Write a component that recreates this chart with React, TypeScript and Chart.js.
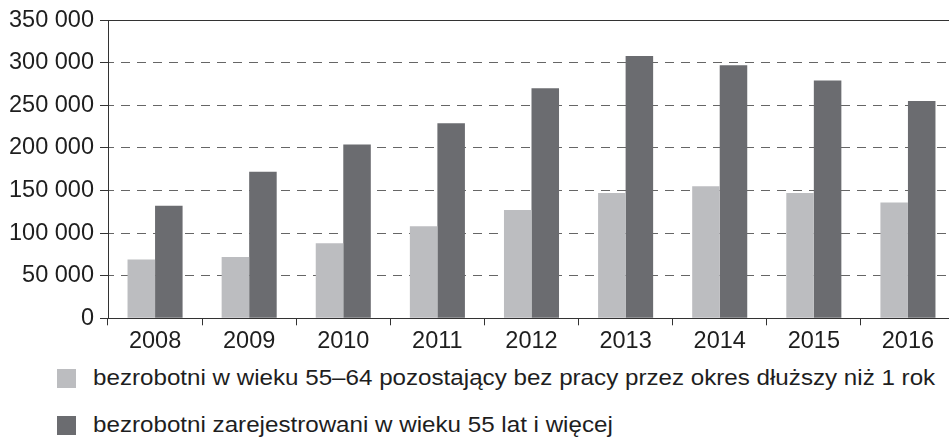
import React, { useEffect, useRef } from "react";
import { Chart, registerables } from "chart.js";

Chart.register(...registerables);

const years = ["2008", "2009", "2010", "2011", "2012", "2013", "2014", "2015", "2016"];
const longTermUnemployed = [69000, 72000, 88000, 108000, 127000, 147000, 155000, 147000, 136000];
const registeredUnemployed = [132000, 172000, 204000, 229000, 270000, 308000, 297000, 279000, 255000];
const seriesLabels = [
  "bezrobotni w wieku 55–64 pozostający bez pracy przez okres dłuższy niż 1 rok",
  "bezrobotni zarejestrowani w wieku 55 lat i więcej",
];
const seriesColors = ["#bcbdc0", "#6b6c70"];
const yMax = 350000;
const yStep = 50000;

const FONT = "'Liberation Sans', Arial, sans-serif";

function formatTick(v: number): string {
  if (v === 0) return "0";
  return String(v).replace(/\B(?=(\d{3})+(?!\d))/g, " ");
}

export default function App() {
  const canvasRef = useRef<HTMLCanvasElement | null>(null);

  useEffect(() => {
    if (!canvasRef.current) return;
    const chart = new Chart(canvasRef.current, {
      type: "bar",
      data: {
        labels: years,
        datasets: [
          {
            label: seriesLabels[0],
            data: longTermUnemployed,
            backgroundColor: seriesColors[0],
            borderWidth: 0,
            barPercentage: 1,
            categoryPercentage: 0.585,
          },
          {
            label: seriesLabels[1],
            data: registeredUnemployed,
            backgroundColor: seriesColors[1],
            borderWidth: 0,
            barPercentage: 1,
            categoryPercentage: 0.585,
          },
        ],
      },
      options: {
        responsive: false,
        animation: false,
        layout: { padding: { top: 11.7, left: 0, right: 0, bottom: 0 } },
        plugins: {
          legend: { display: false },
          tooltip: { enabled: false },
        },
        scales: {
          x: {
            type: "category",
            offset: true,
            grid: {
              offset: true,
              drawOnChartArea: false,
              drawTicks: true,
              tickLength: 7,
              color: "#333",
              tickColor: "#333",
              lineWidth: 1,
            },
            border: { display: true, color: "#333", width: 1 },
            ticks: {
              font: { family: FONT, size: 23.5 },
              color: "#1e1e1e",
              padding: 2,
              maxRotation: 0,
              autoSkip: false,
            },
            afterFit: (s: any) => {
              s.height = 41.7;
            },
          },
          y: {
            min: 0,
            max: yMax,
            ticks: {
              stepSize: yStep,
              callback: (v: any) => formatTick(Number(v)),
              font: { family: FONT, size: 23.5 },
              color: "#1e1e1e",
              padding: 6,
            },
            grid: {
              drawTicks: true,
              tickLength: 8,
              lineWidth: 1,
              color: (ctx: any) =>
                ctx.tick && (ctx.tick.value === 0 || ctx.tick.value === yMax) ? "#333" : "#666",
              tickColor: "#333",
            },
            border: {
              display: true,
              color: "#333",
              width: 1,
              dash: (ctx: any) =>
                ctx.tick && (ctx.tick.value === 0 || ctx.tick.value === yMax) ? [] : [9, 7],
              dashOffset: 4,
            },
            afterFit: (s: any) => {
              s.width = 108;
            },
          },
        },
      },
    });
    return () => chart.destroy();
  }, []);

  const legendItem = (i: number, top: number) => (
    <div
      key={i}
      style={{ position: "absolute", left: 0, top, height: 24, width: 949, whiteSpace: "nowrap" }}
    >
      <div
        style={{
          position: "absolute",
          left: 57,
          top: 2,
          width: 19,
          height: 19,
          background: seriesColors[i],
        }}
      />
      <div
        style={{
          position: "absolute",
          left: 93,
          top: 0,
          fontFamily: FONT,
          fontSize: 22.5,
          lineHeight: "22.5px",
          color: "#1e1e1e",
          transform: "scaleX(1.074)",
          transformOrigin: "0 0",
        }}
      >
        {seriesLabels[i]}
      </div>
    </div>
  );

  return (
    <div
      style={{
        position: "absolute",
        left: 0,
        top: 0,
        width: 949,
        height: 438,
        overflow: "hidden",
        background: "#fff",
      }}
    >
      <canvas ref={canvasRef} width={955} height={360} style={{ position: "absolute", left: 0, top: 0 }} />
      {legendItem(0, 367)}
      {legendItem(1, 414)}
    </div>
  );
}
